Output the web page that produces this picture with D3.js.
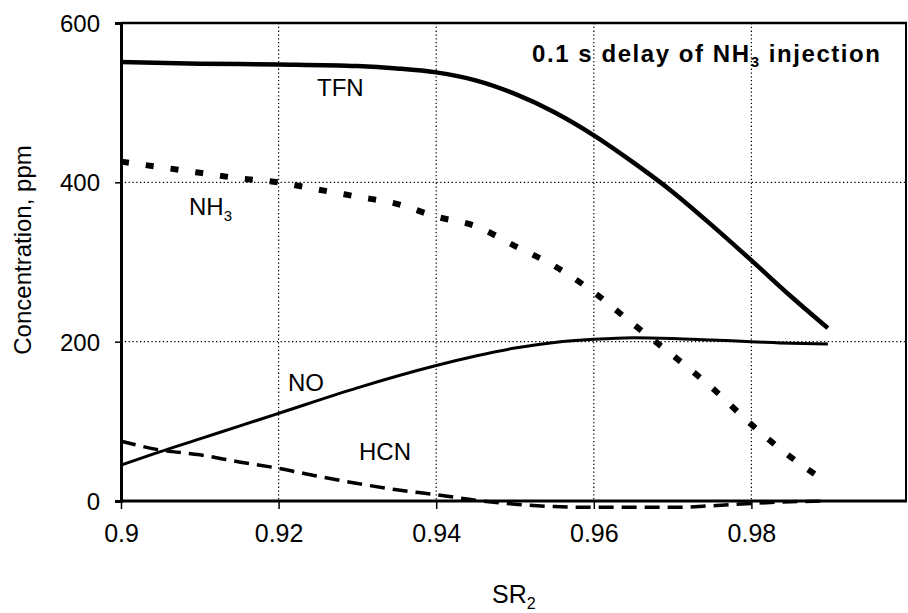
<!DOCTYPE html>
<html>
<head>
<meta charset="utf-8">
<script src="https://cdn.jsdelivr.net/npm/d3@7"></script>
<style>
  html, body { margin: 0; padding: 0; background: #fff; }
  svg { display: block; }
  text { font-family: "Liberation Sans", Arial, Helvetica, sans-serif; fill: #000; }
</style>
</head>
<body>
<svg id="chart" width="908" height="613"></svg>
<script>
// ---- data ----
const xTicks = [0.9, 0.92, 0.94, 0.96, 0.98];
const xTickLabels = ["0.9", "0.92", "0.94", "0.96", "0.98"];
const yTicks = [0, 200, 400, 600];
const yTickLabels = ["0", "200", "400", "600"];

const tfnSR  = [0.9, 0.91, 0.92, 0.93, 0.935, 0.94, 0.945, 0.95, 0.955, 0.96, 0.965, 0.97, 0.975, 0.98, 0.985, 0.9897];
const tfnVal = [551, 549, 548, 546, 543, 538, 528, 511, 488, 459, 425, 388, 346, 302, 257, 217];

const nh3SR  = [0.9, 0.905, 0.91, 0.915, 0.92, 0.925, 0.93, 0.935, 0.94, 0.945, 0.95, 0.955, 0.96, 0.965, 0.97, 0.975, 0.98, 0.985, 0.9892];
const nh3Val = [426, 419, 412, 405, 400, 391, 382, 373, 357, 345, 320, 295, 262, 222, 183, 142, 96, 55, 26];

const noSR   = [0.9, 0.905, 0.91, 0.915, 0.92, 0.93, 0.94, 0.945, 0.95, 0.955, 0.96, 0.965, 0.97, 0.975, 0.98, 0.985, 0.9897];
const noVal  = [45, 62, 78, 94, 110, 142, 170, 182, 192, 199, 203, 205, 204, 202, 200, 198, 197];

const hcnSR  = [0.9, 0.905, 0.91, 0.915, 0.92, 0.925, 0.93, 0.935, 0.94, 0.945, 0.95, 0.955, 0.96, 0.965, 0.97, 0.975, 0.98, 0.985, 0.9897];
const hcnVal = [75, 64, 58, 49, 41, 31, 22, 14, 8, 1, -4, -7, -8, -8, -8, -6, -3, -1, 0];

const seriesNames = ["TFN", "NH3", "NO", "HCN"];

// ---- layout ----
const svg = d3.select("#chart");
const x = d3.scaleLinear().domain([0.9, 1.0]).range([121, 909]);
const y = d3.scaleLinear().domain([0, 600]).range([501, 23]);
const frameRight = 906;

// gridlines (dotted)
const grid = svg.append("g");
grid.selectAll("line.gy").data(yTicks.filter(d => d > 0 && d < 600)).enter().append("line")
  .attr("x1", x(0.9)).attr("x2", frameRight)
  .attr("y1", d => y(d)).attr("y2", d => y(d))
  .attr("stroke", "#000").attr("stroke-width", 1.2).attr("stroke-dasharray", "1.3,2.5");
grid.selectAll("line.gx").data(xTicks.filter(d => d > 0.9)).enter().append("line")
  .attr("x1", d => x(d)).attr("x2", d => x(d))
  .attr("y1", y(600)).attr("y2", y(0))
  .attr("stroke", "#000").attr("stroke-width", 1.2).attr("stroke-dasharray", "1.3,2.5");

// frame top & right
svg.append("line").attr("x1", x(0.9)).attr("x2", frameRight + 1).attr("y1", y(600)).attr("y2", y(600))
  .attr("stroke", "#000").attr("stroke-width", 2.5);
svg.append("line").attr("x1", frameRight).attr("x2", frameRight).attr("y1", y(600)).attr("y2", y(0))
  .attr("stroke", "#000").attr("stroke-width", 2);

// axes
const yAxis = d3.axisLeft(y).tickValues(yTicks).tickFormat((d, i) => yTickLabels[i]).tickSize(6).tickPadding(15);
const gy = svg.append("g").attr("transform", `translate(${x(0.9)},0)`).call(yAxis);
gy.select(".domain").attr("stroke-width", 3);
gy.selectAll(".tick line").attr("stroke-width", 1.5);
gy.selectAll(".tick text").attr("font-size", 24).attr("dy", "0.36em")
  .style("font-family", '"Liberation Sans", Arial, sans-serif');

const xAxis = d3.axisBottom(x).tickValues(xTicks).tickFormat((d, i) => xTickLabels[i]).tickSize(8).tickPadding(24);
const gx = svg.append("g").attr("transform", `translate(0,${y(0)})`).call(xAxis);
gx.select(".domain").attr("stroke-width", 3).attr("d", `M${x(0.9)},0H${frameRight + 1}`);
gx.selectAll(".tick line").attr("stroke-width", 1.5);
gx.selectAll(".tick text").attr("font-size", 25).attr("dy", "0.35em")
  .style("font-family", '"Liberation Sans", Arial, sans-serif');

// lines
const line = d3.line().x(d => x(d[0])).y(d => y(d[1])).curve(d3.curveMonotoneX);
const zip = (a, b) => a.map((v, i) => [v, b[i]]);

svg.append("path").datum(zip(hcnSR, hcnVal)).attr("d", line)
  .attr("fill", "none").attr("stroke", "#000").attr("stroke-width", 3.5).attr("stroke-dasharray", "15,8");
svg.append("path").datum(zip(noSR, noVal)).attr("d", line)
  .attr("fill", "none").attr("stroke", "#000").attr("stroke-width", 3);
svg.append("path").datum(zip(nh3SR, nh3Val)).attr("d", line)
  .attr("fill", "none").attr("stroke", "#000").attr("stroke-width", 6).attr("stroke-dasharray", "8,17");
svg.append("path").datum(zip(tfnSR, tfnVal)).attr("d", line)
  .attr("fill", "none").attr("stroke", "#000").attr("stroke-width", 4.5);

// series labels
const fontS = 24;
svg.append("text").attr("x", 317).attr("y", 96).attr("font-size", fontS).text(seriesNames[0]);
const nh3Lbl = svg.append("text").attr("x", 189).attr("y", 215).attr("font-size", fontS);
nh3Lbl.append("tspan").text("NH");
nh3Lbl.append("tspan").attr("font-size", 15).attr("dy", 6).text("3");
svg.append("text").attr("x", 288).attr("y", 391).attr("font-size", fontS).text(seriesNames[2]);
svg.append("text").attr("x", 359).attr("y", 460).attr("font-size", fontS).text(seriesNames[3]);

// title
const t = svg.append("text").attr("x", 532).attr("y", 62).attr("font-size", 24).attr("font-weight", "bold")
  .attr("textLength", 348).attr("lengthAdjust", "spacing");
t.append("tspan").text("0.1 s delay of NH");
t.append("tspan").attr("font-size", 15).attr("dy", 5).text("3");
t.append("tspan").attr("dy", -5).text(" injection");

// axis titles
svg.append("text").attr("transform", "translate(31,250) rotate(-90)").attr("text-anchor", "middle")
  .attr("font-size", 24).text("Concentration, ppm");
const xt = svg.append("text").attr("x", 492).attr("y", 603).attr("font-size", 25);
xt.append("tspan").text("SR");
xt.append("tspan").attr("font-size", 16).attr("dy", 6).text("2");
</script>
</body>
</html>
